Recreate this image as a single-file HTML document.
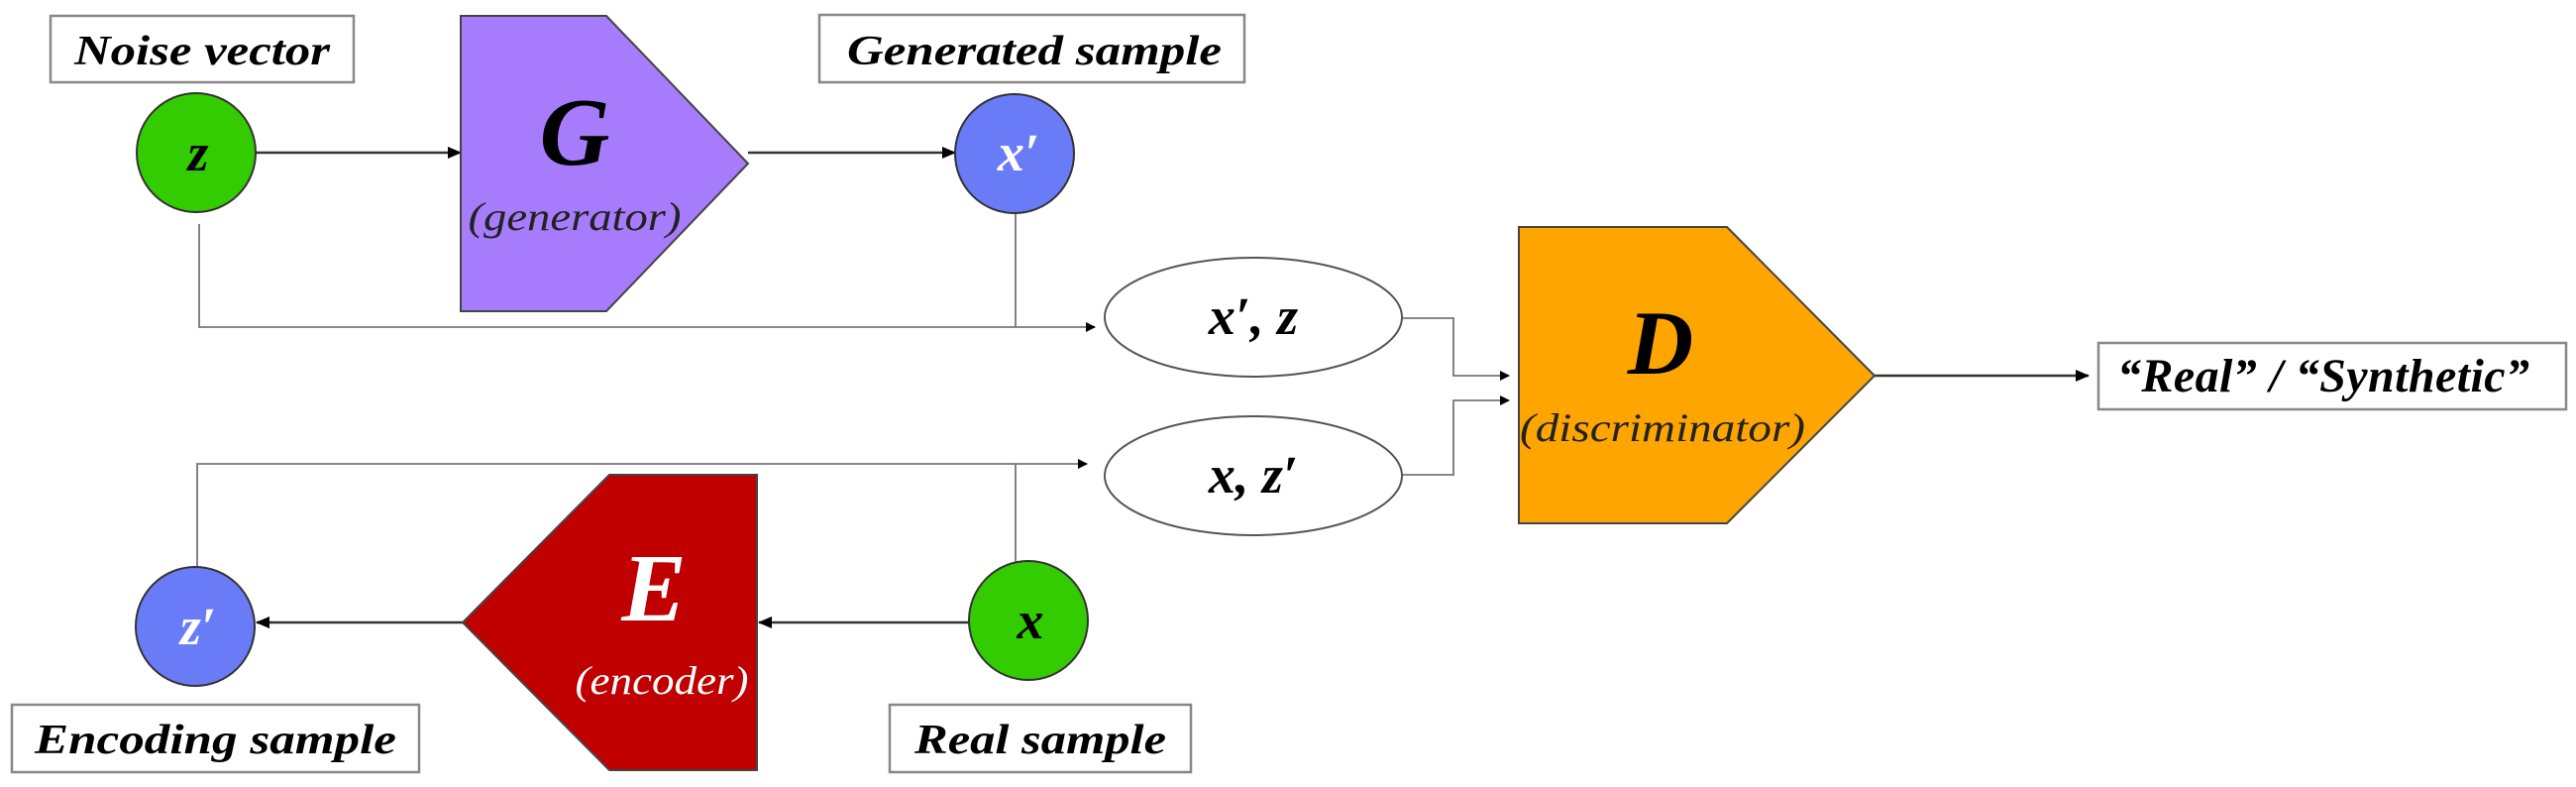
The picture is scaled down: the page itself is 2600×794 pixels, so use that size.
<!DOCTYPE html>
<html><head><meta charset="utf-8"><style>
html,body{margin:0;padding:0;background:#fff;}
svg{display:block;}
text{font-family:"Liberation Serif","DejaVu Serif",serif;font-style:italic;}
</style></head><body>
<svg width="2600" height="794" viewBox="0 0 2600 794" xmlns="http://www.w3.org/2000/svg">
<defs>
<marker id="a" markerWidth="10" markerHeight="10" refX="9" refY="5" orient="auto" markerUnits="userSpaceOnUse">
<path d="M0,0 L10,5 L0,10 z" fill="#000"/></marker>
<marker id="b" markerWidth="14" markerHeight="12" refX="13" refY="6" orient="auto" markerUnits="userSpaceOnUse">
<path d="M0,0 L14,6 L0,12 z" fill="#000"/></marker>
</defs>

<!-- label boxes -->
<g fill="#fff" stroke="#888" stroke-width="2.5">
<rect x="51" y="16" width="306" height="67"/>
<rect x="827" y="15" width="429" height="68"/>
<rect x="2118" y="346" width="472" height="67"/>
<rect x="12" y="711" width="411" height="68"/>
<rect x="898" y="711" width="304" height="68"/>
</g>
<g font-weight="bold" font-size="42" fill="#000">
<text x="75" y="65" textLength="258" lengthAdjust="spacingAndGlyphs">Noise vector</text>
<text x="855" y="65" textLength="378" lengthAdjust="spacingAndGlyphs">Generated sample</text>
<text x="2137" y="395" font-size="48" textLength="416" lengthAdjust="spacing">“Real” / “Synthetic”</text>
<text x="35" y="760" textLength="365" lengthAdjust="spacingAndGlyphs">Encoding sample</text>
<text x="923" y="760" textLength="254" lengthAdjust="spacingAndGlyphs">Real sample</text>
</g>

<!-- connectors -->
<g fill="none" stroke="#333" stroke-width="2.5">
<line x1="258" y1="154" x2="465" y2="154" marker-end="url(#b)"/>
<line x1="755" y1="154" x2="964" y2="154" marker-end="url(#b)"/>
<line x1="1892" y1="379" x2="2108" y2="379" marker-end="url(#b)"/>
<line x1="978" y1="628" x2="766" y2="628" marker-end="url(#b)"/>
<line x1="467" y1="628" x2="259" y2="628" marker-end="url(#b)"/>
</g>
<g fill="none" stroke="#777" stroke-width="1.8">
<polyline points="201,226 201,330 1105,330" marker-end="url(#a)"/>
<line x1="1025" y1="214" x2="1025" y2="330"/>
<polyline points="199,572 199,468 1097,468" marker-end="url(#a)"/>
<line x1="1025" y1="567" x2="1025" y2="468"/>
<polyline points="1415,321 1467,321 1467,379 1523,379" marker-end="url(#a)"/>
<polyline points="1415,479 1467,479 1467,404 1523,404" marker-end="url(#a)"/>
</g>

<!-- shapes -->
<polygon points="465,16 612,16 755,165 612,314 465,314" fill="#a67bfc" stroke="#444" stroke-width="2"/>
<polygon points="1533,229 1743,229 1892,379 1743,528 1533,528" fill="#ffa500" stroke="#444" stroke-width="2"/>
<polygon points="764,479 615,479 467,628 615,777 764,777" fill="#c00000" stroke="#444" stroke-width="2"/>

<circle cx="198" cy="154" r="60" fill="#33cc00" stroke="#333" stroke-width="2"/>
<circle cx="1024" cy="155" r="60" fill="#6a7bf8" stroke="#333" stroke-width="2"/>
<circle cx="197" cy="632" r="60" fill="#6a7bf8" stroke="#333" stroke-width="2"/>
<circle cx="1038" cy="626" r="60" fill="#33cc00" stroke="#333" stroke-width="2"/>

<ellipse cx="1265" cy="320" rx="150" ry="60" fill="#fff" stroke="#555" stroke-width="2"/>
<ellipse cx="1265" cy="480" rx="150" ry="60" fill="#fff" stroke="#555" stroke-width="2"/>

<!-- shape labels -->
<g font-weight="bold" text-anchor="middle">
<text x="200" y="172" font-size="54" fill="#000">z</text>
<text x="1028" y="172" font-size="54" fill="#fff">x′</text>
<text x="200" y="650" font-size="54" fill="#fff">z′</text>
<text x="1040" y="644" font-size="54" fill="#000">x</text>
<text x="1265" y="337" font-size="54" fill="#000">x′, z</text>
<text x="1265" y="497" font-size="54" fill="#000">x, z′</text>
<text x="580" y="166" font-size="98" fill="#000">G</text>
<text x="1676" y="377" font-size="92" fill="#000" font-style="italic" font-family="'Liberation Serif',serif">D</text>
<text x="660" y="626" font-size="98" fill="#fff">E</text>
</g>
<g text-anchor="middle" font-size="40">
<text x="580" y="232" fill="#222" textLength="215" lengthAdjust="spacingAndGlyphs">(generator)</text>
<text x="1678" y="445" fill="#222" textLength="288" lengthAdjust="spacingAndGlyphs">(discriminator)</text>
<text x="668" y="700" fill="#fff" textLength="175" lengthAdjust="spacingAndGlyphs">(encoder)</text>
</g>
</svg>
</body></html>
